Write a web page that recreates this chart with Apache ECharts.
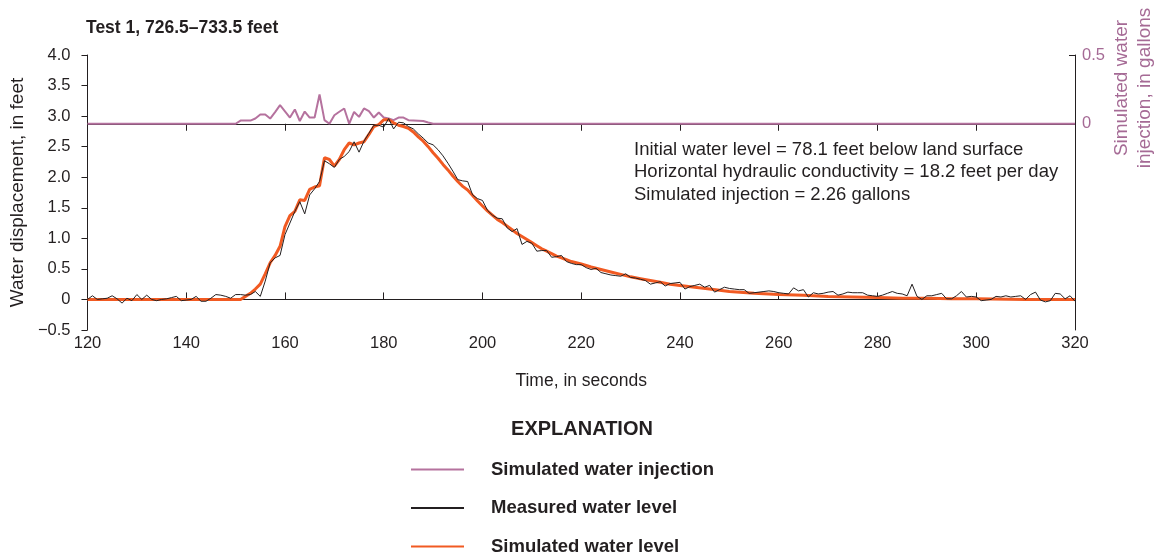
<!DOCTYPE html>
<html><head><meta charset="utf-8">
<script src="https://cdn.jsdelivr.net/npm/echarts@6/dist/echarts.min.js"></script>
<style>html,body{margin:0;padding:0;background:#fff}#c{width:1157px;height:557px}</style>
</head><body><div id="c"></div>
<script>
// ---------- data ----------
const titleText = 'Test 1, 726.5–733.5 feet';
const xTicks = [120, 140, 160, 180, 200, 220, 240, 260, 280, 300, 320];

// Simulated water injection, gallons (right axis)
const injTime = [120, 150, 151, 152, 153, 154, 155, 156, 157, 158, 159, 160, 161, 162, 163, 164, 165, 166, 167, 168, 169, 170, 171, 172, 173, 174, 175, 176, 177, 178, 179, 180, 181, 182, 183, 184, 185, 186, 187, 188, 189, 190, 320];
const injGallons = [0, 0, 0.023, 0.023, 0.023, 0.038, 0.067, 0.067, 0.038, 0.085, 0.135, 0.09, 0.045, 0.104, 0.02, 0.089, 0.045, 0.045, 0.213, 0.026, 0.0, 0.062, 0.087, 0.111, 0.0, 0.086, 0.05, 0.111, 0.091, 0.045, 0.082, 0.045, 0.038, 0.026, 0.045, 0.045, 0.026, 0.024, 0.022, 0.02, 0.009, 0, 0];

// Measured water level, feet
const measuredTime = [120,121,122,123,124,125,126,127,128,129,130,131,132,133,134,135,136,137,138,139,140,141,142,143,144,145,146,147,148,149,150,151,152,153,154,155,156,157,158,159,160,161,162,163,164,165,166,167,168,169,170,171,172,173,174,175,176,177,178,179,180,181,182,183,184,185,186,187,188,189,190,191,192,193,194,195,196,197,198,199,200,201,202,203,204,205,206,207,208,209,210,211,212,213,214,215,216,217,218,219,220,221,222,223,224,225,226,227,228,229,230,231,232,233,234,235,236,237,238,239,240,241,242,243,244,245,246,247,248,249,250,251,252,253,254,255,256,257,258,259,260,261,262,263,264,265,266,267,268,269,270,271,272,273,274,275,276,277,278,279,280,281,282,283,284,285,286,287,288,289,290,291,292,293,294,295,296,297,298,299,300,301,302,303,304,305,306,307,308,309,310,311,312,313,314,315,316,317,318,319,320];
const measuredLevel = [0.00,0.06,0.00,0.01,0.02,0.06,0.01,-0.06,0.02,-0.02,0.08,0.00,0.07,0.00,-0.02,0.00,0.01,0.03,0.05,-0.02,-0.01,0.00,0.05,-0.03,-0.03,0.02,0.08,0.07,0.05,0.02,0.08,0.08,0.07,0.08,0.13,0.05,0.30,0.60,0.68,0.72,1.06,1.25,1.44,1.60,1.40,1.71,1.81,1.93,2.27,2.22,2.16,2.29,2.34,2.42,2.58,2.41,2.59,2.72,2.85,2.85,2.82,2.96,2.79,2.90,2.89,2.83,2.79,2.71,2.64,2.56,2.53,2.45,2.35,2.23,2.10,1.96,1.94,1.93,1.71,1.65,1.62,1.46,1.38,1.33,1.32,1.17,1.11,1.16,0.90,0.95,0.92,0.79,0.80,0.80,0.69,0.70,0.72,0.62,0.59,0.57,0.57,0.52,0.49,0.51,0.44,0.42,0.40,0.39,0.38,0.42,0.36,0.35,0.33,0.31,0.25,0.27,0.29,0.22,0.26,0.27,0.28,0.17,0.21,0.23,0.25,0.20,0.23,0.12,0.16,0.20,0.18,0.17,0.16,0.16,0.10,0.11,0.12,0.13,0.14,0.13,0.11,0.10,0.09,0.19,0.14,0.16,0.04,0.11,0.09,0.10,0.12,0.13,0.07,0.09,0.12,0.11,0.11,0.11,0.07,0.06,0.05,0.07,0.10,0.13,0.10,0.09,0.06,0.25,0.05,0.00,0.06,0.06,0.08,0.10,0.01,0.01,0.06,0.13,0.04,0.05,0.04,-0.02,-0.01,0.00,0.05,0.04,0.06,0.04,0.05,0.06,0.00,0.08,0.12,-0.01,-0.04,-0.02,0.10,0.09,0.01,0.06,-0.03];

// Simulated water level, feet
const simTime = [120,151,152,153,154,155,156,157,158,159,160,161,162,163,164,165,166,167,168,169,170,171,172,173,174,175,176,177,178,179,180,181,182,183,184,185,186,187,188,189,190,191,192,193,194,195,196,197,198,199,200,201,202,203,204,205,206,207,208,209,210,211,212,213,214,215,216,217,218,219,220,222,224,226,228,230,232,234,236,238,240,243,246,250,255,260,265,270,275,280,285,290,295,300,310,320];
const simLevel = [0,0,0.05,0.10,0.17,0.25,0.42,0.60,0.72,0.87,1.19,1.37,1.44,1.63,1.62,1.80,1.84,1.86,2.32,2.29,2.18,2.29,2.45,2.56,2.53,2.56,2.58,2.70,2.83,2.86,2.94,2.94,2.89,2.85,2.83,2.80,2.74,2.66,2.59,2.50,2.40,2.31,2.21,2.12,2.02,1.93,1.85,1.79,1.70,1.61,1.53,1.45,1.38,1.31,1.26,1.20,1.14,1.08,1.03,0.98,0.93,0.88,0.83,0.79,0.75,0.71,0.68,0.65,0.62,0.60,0.58,0.53,0.49,0.45,0.41,0.37,0.34,0.31,0.28,0.25,0.23,0.20,0.17,0.13,0.10,0.08,0.07,0.05,0.04,0.03,0.02,0.02,0.01,0.01,0.0,0.0];

const notes = [
  'Initial water level = 78.1 feet below land surface',
  'Horizontal hydraulic conductivity = 18.2 feet per day',
  'Simulated injection = 2.26 gallons'
];
const legendNames = ['Simulated water injection', 'Measured water level', 'Simulated water level'];

// ---------- styling ----------
const FONT = "'Liberation Sans',Arial,sans-serif";
const INK = '#231f20';
const PURPLE = '#b5729e';
const PURPLE_TXT = '#a56a95';
const ORANGE = '#f15a22';

const zip = (a, b) => a.map((v, i) => [v, b[i]]);

const chart = echarts.init(document.getElementById('c'), null, {renderer: 'canvas'});
chart.setOption({
  animation: false,
  backgroundColor: '#fff',
  textStyle: {fontFamily: FONT, color: INK},
  title: [
    {text: titleText, left: 86, top: 19, padding: 0,
     textStyle: {fontFamily: FONT, fontSize: 17.5, fontWeight: 'bold', color: INK}},
    {text: 'EXPLANATION', left: 582, top: 419, textAlign: 'center', padding: 0,
     textStyle: {fontFamily: FONT, fontSize: 20, fontWeight: 'bold', color: INK}}
  ],
  grid: {left: 87, right: 82, top: 55, bottom: 227, containLabel: false},
  xAxis: [
    {type: 'value', min: 120, max: 320, interval: 20, position: 'bottom',
     axisLine: {show: true, lineStyle: {color: INK, width: 1}},
     axisTick: {show: true, inside: true, length: 7, lineStyle: {color: INK}},
     axisLabel: {fontSize: 16.5, color: INK, fontFamily: FONT, margin: 5},
     splitLine: {show: false},
     name: 'Time, in seconds', nameLocation: 'middle', nameGap: 42,
     nameTextStyle: {fontSize: 17.5, color: INK, fontFamily: FONT}},
    {type: 'value', min: 120, max: 320, interval: 20, position: 'top',
     axisLine: {show: true, lineStyle: {color: INK, width: 1}},
     axisTick: {show: true, inside: true, length: 7, lineStyle: {color: INK}},
     axisLabel: {show: false}, splitLine: {show: false}}
  ],
  yAxis: [
    {type: 'value', min: -0.5, max: 4, interval: 0.5, position: 'left',
     axisLine: {show: true, lineStyle: {color: INK, width: 1}},
     axisTick: {show: true, inside: false, length: 6, lineStyle: {color: INK}},
     axisLabel: {fontSize: 16.5, color: INK, fontFamily: FONT, margin: 17,
       formatter: v => v === 0 ? '0' : v.toFixed(1).replace('-', '\u2212')},
     splitLine: {show: false},
     name: 'Water displacement, in feet', nameLocation: 'middle', nameRotate: 90, nameGap: 54,
     nameTextStyle: {fontSize: 19, color: INK, fontFamily: FONT}},
    {type: 'value', min: -1.5, max: 0.5, interval: 0.5, position: 'right',
     axisLine: {show: true, lineStyle: {color: INK, width: 1}},
     axisTick: {show: true, inside: true, length: 6, customValues: [0, 0.5], lineStyle: {color: INK}},
     axisLabel: {fontSize: 16.5, color: PURPLE_TXT, fontFamily: FONT, margin: 7, customValues: [0, 0.5],
       formatter: v => v === 0 ? '0' : (v === 0.5 ? '0.5' : '')},
     splitLine: {show: false}}
  ],
  legend: {
    data: legendNames, orient: 'vertical', left: 410, top: 460, height: 120, padding: 0,
    itemWidth: 53, itemHeight: 10, itemGap: 19.5, selectedMode: false,
    itemStyle: {opacity: 0, borderWidth: 0},
    textStyle: {fontSize: 18.5, fontWeight: 'bold', color: INK, fontFamily: FONT, lineHeight: 16, padding: [0, 0, 0, 22]}
  },
  graphic: [
    {type: 'text', x: 634, y: 150, style: {text: notes[0], fontSize: 18.5, fontFamily: FONT, fill: INK, verticalAlign: 'middle'}},
    {type: 'text', x: 634, y: 172, style: {text: notes[1], fontSize: 18.5, fontFamily: FONT, fill: INK, verticalAlign: 'middle'}},
    {type: 'text', x: 634, y: 195, style: {text: notes[2], fontSize: 18.5, fontFamily: FONT, fill: INK, verticalAlign: 'middle'}},
    {type: 'text', x: 1133, y: 88, rotation: Math.PI / 2,
     style: {text: 'Simulated water\ninjection, in gallons', fontSize: 19, fontFamily: FONT, fill: PURPLE_TXT,
       align: 'center', verticalAlign: 'middle', lineHeight: 23}}
  ],
  series: [
    {name: legendNames[0], type: 'line', xAxisIndex: 0, yAxisIndex: 1, data: zip(injTime, injGallons),
     showSymbol: false, symbol: 'none', lineStyle: {color: PURPLE, width: 2}, itemStyle: {color: PURPLE}, z: 2},
    {name: legendNames[2], type: 'line', xAxisIndex: 0, yAxisIndex: 0, data: zip(simTime, simLevel),
     showSymbol: false, symbol: 'none', lineStyle: {color: ORANGE, width: 3}, itemStyle: {color: ORANGE}, z: 3},
    {name: legendNames[1], type: 'line', xAxisIndex: 0, yAxisIndex: 0, data: zip(measuredTime, measuredLevel),
     showSymbol: false, symbol: 'none', lineStyle: {color: INK, width: 1}, itemStyle: {color: INK}, z: 4}
  ]
});
</script></body></html>
